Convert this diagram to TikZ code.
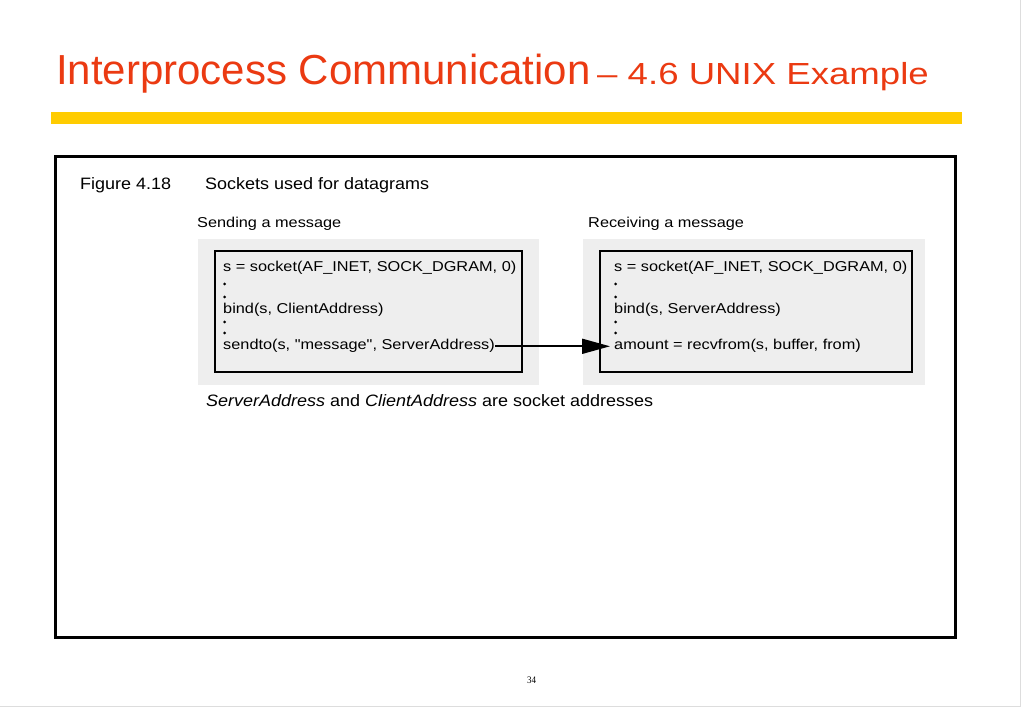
\documentclass[tikz,border=0pt]{standalone}
\usepackage{fontspec}
\setmainfont{Liberation Sans}[Ligatures=TeXOff]
\newfontfamily\pgserif{Liberation Serif}
\usetikzlibrary{arrows.meta}
\definecolor{titlered}{HTML}{EB3A12}
\definecolor{baryellow}{HTML}{FFCC00}
\definecolor{panelgray}{HTML}{EEEEEE}
\definecolor{edgegray}{HTML}{DDDDDD}
\tikzset{
  bodytxt/.style={anchor=base west, inner sep=0pt, font=\fontsize{14.3}{16}\selectfont, xscale=1.14},
  figtxt/.style={anchor=base west, inner sep=0pt, font=\fontsize{16.5}{19}\selectfont, xscale=1.09},
  codebox/.style={draw=black, line width=2.4pt},
  panel/.style={fill=panelgray, draw=none},
  codedot/.style={fill=black, draw=none, circle, inner sep=0pt, minimum size=3pt},
}
\begin{document}
\begin{tikzpicture}[x=1pt,y=-1pt]
\useasboundingbox (0,0) rectangle (1023,708);
\fill[white] (0,0) rectangle (1023,708);
% slide edges
\draw[edgegray, line width=1pt] (1020,0) -- (1020,706) -- (0,706);
% title
\node[anchor=base west, inner sep=0pt, text=titlered, font=\fontsize{42}{48}\selectfont] (title) at (56,85) {Interprocess Communication};
\node[anchor=base west, inner sep=0pt, text=titlered, font=\fontsize{30.5}{36}\selectfont, xscale=1.2] (subtitle) at (597,85) {\textendash\ 4.6 UNIX Example};
% yellow bar
\fill[baryellow] (51,112) rectangle (962,124);
% frame
\draw[black, line width=2.5pt] (55.5,156.5) rectangle (955.5,637.5);
% figure heading
\node[figtxt] (fignum) at (80,190) {Figure 4.18};
\node[figtxt] (figtitle) at (205,190) {Sockets used for datagrams};
\node[bodytxt] (sendlbl) at (197,228) {Sending a message};
\node[bodytxt] (recvlbl) at (588,228) {Receiving a message};
% panels
\fill[panel] (198,239) rectangle (539,385);
\fill[panel] (583,239) rectangle (925,385);
\draw[codebox] (215,251) rectangle (522,372);
\draw[codebox] (600,251) rectangle (912,372);
% left code
\node[bodytxt] (lsock) at (223,272) {s = socket(AF\_INET, SOCK\_DGRAM, 0)};
\node[codedot] (ld1) at (224.5,284) {};
\node[codedot] (ld2) at (224.5,297) {};
\node[bodytxt] (lbind) at (223,314) {bind(s, ClientAddress)};
\node[codedot] (ld3) at (224.5,322) {};
\node[codedot] (ld4) at (224.5,333) {};
\node[bodytxt] (sendto) at (223,350) {sendto(s, "message", ServerAddress)};
% right code
\node[bodytxt] (rsock) at (614,272) {s = socket(AF\_INET, SOCK\_DGRAM, 0)};
\node[codedot] (rd1) at (615.5,284) {};
\node[codedot] (rd2) at (615.5,297) {};
\node[bodytxt] (rbind) at (614,314) {bind(s, ServerAddress)};
\node[codedot] (rd3) at (615.5,322) {};
\node[codedot] (rd4) at (615.5,333) {};
\node[bodytxt] (amount) at (614,350) {amount = recvfrom(s, buffer, from)};
% arrow
\draw[black, line width=1.8pt, -{Triangle[length=28pt,width=15pt]}, shorten >=4pt]
  (sendto.east) -- (sendto.east -| amount.west);
% caption
\node[figtxt] (caption) at (206,407) {\textit{ServerAddress} and \textit{ClientAddress} are socket addresses};
% page number
\node[anchor=base west, inner sep=0pt, font=\fontsize{10}{12}\pgserif, xscale=0.9] (pagenum) at (527,683) {34};
\end{tikzpicture}
\end{document}
